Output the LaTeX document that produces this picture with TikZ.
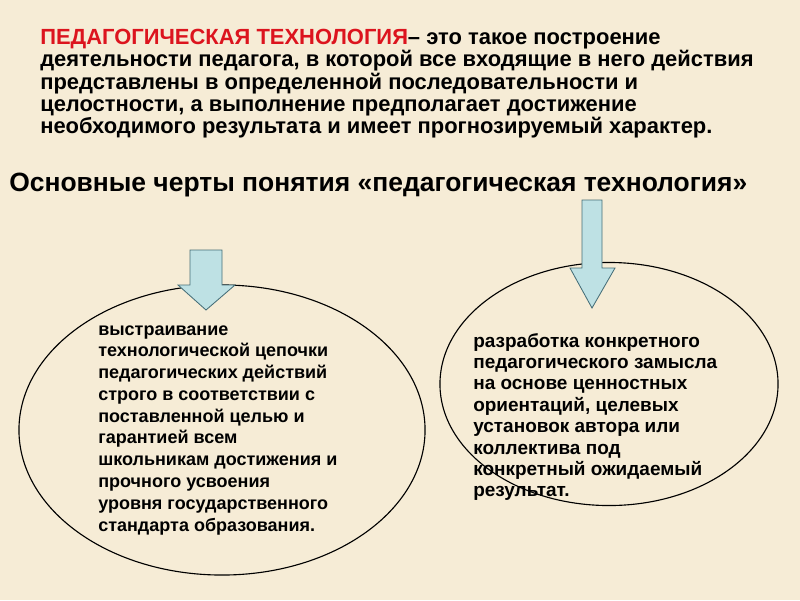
\documentclass[tikz,border=0pt]{standalone}
\usepackage{fontspec}
\setmainfont{Liberation Sans}
\usetikzlibrary{positioning,shapes.geometric}
\definecolor{bgbeige}{RGB}{246,236,214}
\definecolor{arrowblue}{RGB}{190,225,228}
\definecolor{arrowedge}{RGB}{70,110,120}
\definecolor{titlered}{RGB}{220,20,30}
\begin{document}
\begin{tikzpicture}[
      x=0.025cm, y=-0.025cm,
      txt/.style={anchor=north west, align=left, inner sep=0pt},
      oval/.style={ellipse, draw, line width=0.8pt},
      down/.style={draw=arrowedge, fill=arrowblue, line width=0.6pt}
  ]
      \fill[bgbeige] (0,0) rectangle (800,600);
      % Definition on top
      \node (defn) [txt, font=\bfseries\fontsize{15.6}{15.8}\selectfont] at (40,29) {\textcolor{titlered}{ПЕДАГОГИЧЕСКАЯ ТЕХНОЛОГИЯ}– это такое построение\\
        деятельности педагога, в которой все входящие в него действия\\
        представлены в определенной последовательности и\\
        целостности, а выполнение предполагает достижение\\
        необходимого результата и имеет прогнозируемый характер.};
      \node (heading) [anchor=west, inner sep=0pt, font=\bfseries\fontsize{18.8}{20}\selectfont] at (9,185) {Основные черты понятия «педагогическая технология»};

      % Ovals
      \node (leftoval) [oval, minimum width=10.15cm, minimum height=7.25cm] at (222,430) {};
      \node (rightoval) [oval, minimum width=8.45cm, minimum height=6.075cm] at (609,384) {};

      % Arrows
      \draw[down] (190,250) -- (222,250) -- (222,285) -- (235,285) -- (206,310) -- (178,285) -- (190,285) -- cycle;
      \draw[down] (582,200) -- (602,200) -- (602,268) -- (615,268) -- (592,308) -- (570,268) -- (582,268) -- cycle;

      % Texts
      \node (lefttext) [txt, font=\bfseries\fontsize{12.8}{15.5}\selectfont] at (98,325) {выстраивание\\
        технологической цепочки\\
        педагогических действий\\
        строго в соответствии с\\
        поставленной целью и\\
        гарантией всем\\
        школьникам достижения и\\
        прочного усвоения\\
        уровня государственного\\
        стандарта образования.};
      \node (righttext) [txt, font=\bfseries\fontsize{13.5}{15.2}\selectfont] at (473,333) {разработка конкретного\\
        педагогического замысла\\
        на основе ценностных\\
        ориентаций, целевых\\
        установок автора или\\
        коллектива под\\
        конкретный ожидаемый\\
        результат.};
  \end{tikzpicture}
\end{document}
